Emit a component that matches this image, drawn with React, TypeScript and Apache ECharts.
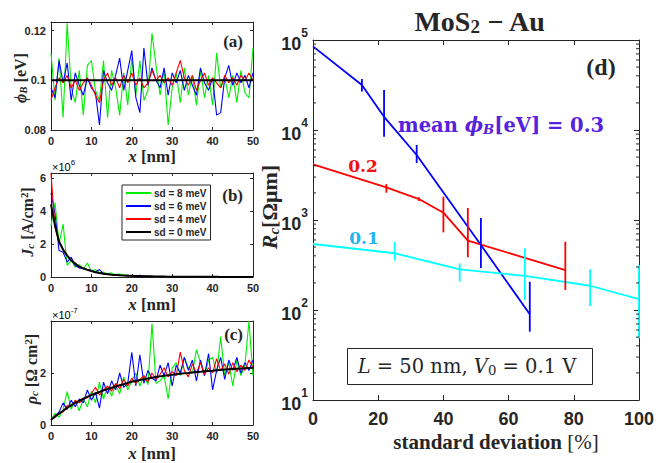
import React, { useEffect, useRef } from 'react';
import * as echarts from 'echarts';

// ---------- data: panels (a)-(c), position x [nm] ----------
const xNm = [0,1,2,3,4,5,6,7,8,9,10,11,12,13,14,15,16,17,18,19,20,21,22,23,24,25,26,27,28,29,30,31,32,33,34,35,36,37,38,39,40,41,42,43,44,45,46,47,48,49,50];

// (a) barrier height phi_B [eV]
const phiGreen = [0.111,0.092,0.109,0.085,0.123,0.097,0.091,0.104,0.086,0.106,0.108,0.096,0.092,0.108,0.085,0.104,0.097,0.086,0.103,0.090,0.109,0.094,0.108,0.092,0.096,0.119,0.106,0.094,0.104,0.082,0.097,0.103,0.091,0.105,0.094,0.102,0.090,0.104,0.093,0.102,0.090,0.111,0.097,0.101,0.093,0.102,0.091,0.104,0.095,0.093,0.113];
const phiBlue = [0.097,0.093,0.108,0.099,0.107,0.092,0.103,0.098,0.094,0.101,0.097,0.095,0.082,0.104,0.099,0.096,0.102,0.109,0.096,0.104,0.112,0.093,0.087,0.113,0.098,0.105,0.100,0.097,0.105,0.094,0.103,0.099,0.104,0.096,0.102,0.098,0.094,0.105,0.099,0.096,0.101,0.086,0.087,0.101,0.106,0.098,0.103,0.099,0.102,0.097,0.103];
const phiRed = [0.092,0.097,0.101,0.099,0.102,0.097,0.100,0.096,0.099,0.101,0.098,0.094,0.091,0.100,0.103,0.098,0.101,0.097,0.102,0.099,0.103,0.098,0.101,0.097,0.099,0.104,0.100,0.102,0.099,0.101,0.098,0.103,0.108,0.101,0.098,0.102,0.096,0.100,0.103,0.098,0.101,0.099,0.097,0.102,0.099,0.101,0.098,0.102,0.100,0.103,0.100];
const phiMeanX = [0, 50];
const phiMean = [0.1, 0.1];

// (b) current density J_c [1e6 A/cm^2]
const jcGreen = [3.1,4.5,2.0,3.2,0.7,1.0,0.6,0.75,0.5,0.85,0.35,0.45,0.25,0.3,0.2,0.25,0.12,0.2,0.1,0.12,0.05,0.09,0.05,0.06,0.03,0.05,0.025,0.035,0.02,0.03,0.02,0.015,0.02,0.012,0.015,0.01,0.014,0.009,0.011,0.008,0.01,0.007,0.009,0.006,0.008,0.006,0.007,0.005,0.006,0.005,0.005];
const jcBlue = [5.1,3.8,1.6,1.5,0.9,1.2,0.7,0.55,0.5,0.45,0.4,0.3,0.45,0.2,0.18,0.15,0.12,0.1,0.09,0.08,0.07,0.06,0.1,0.04,0.04,0.035,0.03,0.025,0.024,0.02,0.019,0.016,0.015,0.013,0.013,0.011,0.011,0.01,0.009,0.009,0.008,0.008,0.007,0.007,0.006,0.006,0.006,0.005,0.005,0.005,0.005];
const jcRed = [6.25,3.0,2.1,1.7,1.3,1.0,0.85,0.6,0.55,0.45,0.35,0.3,0.26,0.2,0.17,0.15,0.12,0.1,0.09,0.08,0.07,0.06,0.05,0.045,0.04,0.035,0.03,0.027,0.024,0.021,0.019,0.017,0.015,0.014,0.013,0.012,0.011,0.01,0.009,0.009,0.008,0.008,0.007,0.007,0.006,0.006,0.006,0.005,0.005,0.005,0.005];
const jcBlack = [4.4,3.1,2.15,1.65,1.3,1.0,0.8,0.63,0.52,0.43,0.36,0.29,0.24,0.2,0.17,0.14,0.12,0.1,0.09,0.08,0.07,0.06,0.05,0.045,0.04,0.035,0.03,0.027,0.024,0.021,0.019,0.017,0.015,0.014,0.013,0.012,0.011,0.01,0.009,0.009,0.008,0.008,0.007,0.007,0.006,0.006,0.006,0.005,0.005,0.005,0.005];

// (c) contact resistivity rho_c [1e-7 Ohm cm^2]
const rhoGreen = [0.2,0.45,0.3,0.6,1.28,0.6,0.95,0.55,1.0,0.7,1.3,0.85,1.65,1.0,1.5,1.1,1.55,1.2,1.85,1.35,1.7,2.0,1.5,1.9,1.55,3.9,1.6,1.7,1.9,1.0,2.2,2.4,1.9,2.6,2.2,2.0,2.9,2.4,1.9,2.5,2.6,2.0,3.4,1.9,2.4,1.5,2.5,1.9,2.3,4.0,1.9];
const rhoBlue = [0.2,0.35,0.5,0.85,0.6,0.95,0.7,1.0,0.85,1.35,0.95,1.25,0.65,1.65,1.2,1.7,1.35,2.0,1.45,1.6,2.8,1.5,2.7,1.6,2.1,1.8,1.7,2.3,1.9,2.4,1.5,2.3,2.0,2.6,2.1,2.5,1.7,2.5,1.9,2.75,1.35,2.1,2.6,1.75,2.5,2.1,2.6,2.0,2.4,2.1,2.5];
const rhoRed = [0.2,0.35,0.45,0.5,0.75,0.7,0.95,0.85,1.0,1.05,1.2,1.45,1.15,1.35,1.5,1.3,1.6,1.4,1.75,1.5,1.8,1.6,1.75,1.9,1.65,2.0,1.75,1.95,2.2,1.85,2.05,1.9,2.8,2.1,1.85,2.35,2.0,2.4,1.95,2.2,2.0,2.55,2.1,2.35,1.95,2.4,2.05,2.3,2.1,2.5,2.2];
const rhoBlack = [0.2,0.32,0.44,0.55,0.66,0.76,0.85,0.93,1.01,1.08,1.15,1.21,1.27,1.33,1.38,1.43,1.48,1.53,1.57,1.62,1.66,1.69,1.73,1.76,1.79,1.82,1.85,1.87,1.89,1.91,1.93,1.95,1.97,1.99,2.0,2.02,2.04,2.05,2.07,2.08,2.09,2.11,2.12,2.13,2.14,2.15,2.16,2.17,2.18,2.19,2.2];

const sdNames = ['sd = 8 meV', 'sd = 6 meV', 'sd = 4 meV', 'sd = 0 meV'];

// ---------- data: panel (d), R_c [Ohm um] vs standard deviation [%] ----------
const sd03 = [0, 15, 21.8, 31.8, 51.5, 66.5];
const rc03 = [85000, 31600, 14000, 5270, 527, 89.6];
const errSd03 = [15, 21.8, 31.8, 51.5, 66.5];
const errLo03 = [26700, 8430, 4300, 293, 57.4];
const errHi03 = [36900, 27800, 6810, 1052, 206];

const sd02 = [0, 22.5, 32.5, 40, 47.5, 77.4];
const rc02 = [4160, 2300, 1710, 1205, 589, 278];
const errSd02 = [22.5, 32.5, 40, 47.5, 77.4];
const errLo02 = [2010, 1625, 729, 385, 167];
const errHi02 = [2510, 1790, 1815, 1360, 574];

const sd01 = [0, 25.1, 45, 65, 85, 100];
const rc01 = [541, 427, 283, 239, 186, 132];
const errSd01 = [25.1, 45, 65, 85, 100];
const errLo01 = [353, 206, 129, 111, 48.5];
const errHi01 = [574, 330, 484, 283, 316];

const minorMultipliers = [2, 3, 4, 5, 6, 7, 8, 9];
const decades = [10, 100, 1000, 10000];

// ---------- styling ----------
const AX = '#262626';
const SANS = '"Liberation Sans", Arial, sans-serif';
const SERIF = '"Liberation Serif", "DejaVu Serif", serif';
const WIDE = '"DejaVu Serif", "Liberation Serif", serif';
const GREEN = '#00ee00';
const BLUE = '#0000ff';
const RED = '#ff0000';
const CYAN = '#00ffff';

const pairs = (xs: number[], ys: number[]) => xs.map((x, i) => [x, ys[i]]);

function xAx(gi: number, pos: 'bottom' | 'top', min: number, max: number, interval: number, fs: number, tick: number, margin: number) {
  return {
    type: 'value', gridIndex: gi, position: pos, min, max, interval,
    axisLine: { show: true, onZero: false, lineStyle: { color: AX, width: 1 } },
    axisTick: { show: true, inside: true, length: tick, lineStyle: { color: AX, width: 1 } },
    axisLabel: { show: pos === 'bottom', color: AX, fontSize: fs, fontWeight: 'bold', fontFamily: SANS, margin },
    splitLine: { show: false },
  };
}

function yAx(gi: number, pos: 'left' | 'right', min: number, max: number, interval: number, fs: number, fmt?: (v: number) => string) {
  return {
    type: 'value', gridIndex: gi, position: pos, min, max, interval,
    axisLine: { show: true, onZero: false, lineStyle: { color: AX, width: 1 } },
    axisTick: { show: true, inside: true, length: 3, lineStyle: { color: AX, width: 1 } },
    axisLabel: { show: pos === 'left', color: AX, fontSize: fs, fontWeight: 'bold', fontFamily: SANS, margin: 5, showMaxLabel: false, formatter: fmt },
    splitLine: { show: false },
  };
}

function logAx(pos: 'left' | 'right') {
  return {
    type: 'log', logBase: 10, gridIndex: 3, position: pos, min: 10, max: 100000,
    axisLine: { show: true, onZero: false, lineStyle: { color: AX, width: 1 } },
    axisTick: { show: true, inside: true, length: 5, lineStyle: { color: AX, width: 1 } },
    axisLabel: {
      show: pos === 'left', margin: 5,
      formatter: (v: number) => `{b|10}{s|${Math.round(Math.log10(v))}}`,
      rich: {
        b: { fontSize: 18, fontWeight: 'bold', fontFamily: SANS, color: AX, lineHeight: 26, verticalAlign: 'bottom' },
        s: { fontSize: 12, fontWeight: 'bold', fontFamily: SANS, color: AX, lineHeight: 12, verticalAlign: 'top' },
      },
    },
    splitLine: { show: false },
    minorTick: { show: false },
  };
}

const lineSeries = (name: string, xi: number, data: number[][], color: string, width: number) => ({
  name, type: 'line', xAxisIndex: xi, yAxisIndex: xi, data, showSymbol: false, symbol: 'none',
  lineStyle: { color, width }, itemStyle: { color }, silent: true, z: 3,
});

const errSeries = (xs: number[], lo: number[], hi: number[], color: string) => ({
  type: 'custom', xAxisIndex: 6, yAxisIndex: 6, silent: true, z: 4,
  data: xs.map((x, i) => [x, lo[i], hi[i]]),
  encode: { x: 0, y: [1, 2] },
  renderItem: (params: any, api: any) => {
    const a = api.coord([api.value(0), api.value(1)]);
    const b = api.coord([api.value(0), api.value(2)]);
    return { type: 'line', shape: { x1: a[0], y1: a[1], x2: b[0], y2: b[1] }, style: { stroke: color, lineWidth: 1.8 } };
  },
});

const rich = (size: number, color: string, fam: string) => ({
  n: { fontSize: size, fontWeight: 'bold', fontFamily: fam, color, lineHeight: size * 1.1, verticalAlign: 'middle' },
  r: { fontSize: size, fontWeight: 'normal', fontFamily: fam, color, lineHeight: size * 1.1, verticalAlign: 'middle' },
  i: { fontSize: size, fontWeight: 'bold', fontStyle: 'italic', fontFamily: fam, color, lineHeight: size * 1.1, verticalAlign: 'middle' },
  ri: { fontSize: size, fontWeight: 'normal', fontStyle: 'italic', fontFamily: fam, color, lineHeight: size * 1.1, verticalAlign: 'middle' },
  sub: { fontSize: size * 0.68, fontWeight: 'bold', fontStyle: 'italic', fontFamily: fam, color, lineHeight: size * 0.55, verticalAlign: 'bottom' },
  subn: { fontSize: size * 0.68, fontWeight: 'normal', fontFamily: fam, color, lineHeight: size * 0.55, verticalAlign: 'bottom' },
  subb: { fontSize: size * 0.68, fontWeight: 'bold', fontFamily: fam, color, lineHeight: size * 0.55, verticalAlign: 'bottom' },
  sup: { fontSize: size * 0.68, fontWeight: 'bold', fontFamily: fam, color, lineHeight: size * 0.55, verticalAlign: 'top' },
});

const gtext = (x: number, y: number, text: string, size: number, opts: any = {}) => ({
  type: 'text', x, y, z: 100, rotation: opts.rotation || 0,
  style: {
    text, rich: rich(size, opts.color || AX, opts.fam || SERIF), align: opts.align || 'center', verticalAlign: 'middle',
    fontSize: size, fontFamily: opts.fam || SERIF, fill: opts.color || AX,
  },
});

export default function App() {
  const ref = useRef<HTMLDivElement>(null);
  useEffect(() => {
    if (!ref.current) return;
    const chart = echarts.init(ref.current, undefined, { renderer: 'svg' });
    const minorData: number[][] = [];
    decades.forEach((d) => minorMultipliers.forEach((m) => minorData.push([0, d * m])));

    const option: any = {
      animation: false,
      backgroundColor: '#ffffff',
      grid: [
        { left: 51, top: 22, width: 202, height: 108 },
        { left: 51, top: 173, width: 202, height: 104 },
        { left: 51, top: 321, width: 202, height: 104 },
        { left: 313, top: 40, width: 326, height: 360 },
      ],
      xAxis: [
        xAx(0, 'bottom', 0, 50, 10, 11, 3, 5), xAx(0, 'top', 0, 50, 10, 11, 3, 5),
        xAx(1, 'bottom', 0, 50, 10, 11, 3, 5), xAx(1, 'top', 0, 50, 10, 11, 3, 5),
        xAx(2, 'bottom', 0, 50, 10, 11, 3, 5), xAx(2, 'top', 0, 50, 10, 11, 3, 5),
        xAx(3, 'bottom', 0, 100, 20, 18, 5, 10), xAx(3, 'top', 0, 100, 20, 18, 5, 10),
      ],
      yAxis: [
        yAx(0, 'left', 0.08, 0.1235, 0.02, 11, (v: number) => String(Math.round(v * 100) / 100)),
        yAx(0, 'right', 0.08, 0.1235, 0.02, 11),
        yAx(1, 'left', 0, 6.3, 2, 11), yAx(1, 'right', 0, 6.3, 2, 11),
        yAx(2, 'left', 0, 4, 2, 11), yAx(2, 'right', 0, 4, 2, 11),
        logAx('left'), logAx('right'),
      ],
      legend: {
        data: sdNames, orient: 'vertical', left: 122, top: 185, selectedMode: false,
        icon: 'rect', itemWidth: 25, itemHeight: 2, itemGap: 3,
        padding: [3, 4, 3, 4], borderColor: AX, borderWidth: 1, backgroundColor: '#ffffff',
        textStyle: { fontSize: 10, fontWeight: 'bold', fontFamily: SANS, color: AX, padding: [0, 0, 0, -2] },
      },
      series: [
        lineSeries(sdNames[0], 0, pairs(xNm, phiGreen), GREEN, 1.1),
        lineSeries(sdNames[1], 0, pairs(xNm, phiBlue), BLUE, 1.1),
        lineSeries(sdNames[2], 0, pairs(xNm, phiRed), RED, 1.1),
        lineSeries(sdNames[3], 0, pairs(phiMeanX, phiMean), '#000000', 2),
        lineSeries(sdNames[0], 2, pairs(xNm, jcGreen), GREEN, 1.1),
        lineSeries(sdNames[1], 2, pairs(xNm, jcBlue), BLUE, 1.1),
        lineSeries(sdNames[2], 2, pairs(xNm, jcRed), RED, 1.1),
        lineSeries(sdNames[3], 2, pairs(xNm, jcBlack), '#000000', 2),
        lineSeries(sdNames[0], 4, pairs(xNm, rhoGreen), GREEN, 1.1),
        lineSeries(sdNames[1], 4, pairs(xNm, rhoBlue), BLUE, 1.1),
        lineSeries(sdNames[2], 4, pairs(xNm, rhoRed), RED, 1.1),
        lineSeries(sdNames[3], 4, pairs(xNm, rhoBlack), '#000000', 2),
        lineSeries('mean 0.3 eV', 6, pairs(sd03, rc03), BLUE, 1.8),
        lineSeries('mean 0.2 eV', 6, pairs(sd02, rc02), RED, 1.8),
        lineSeries('mean 0.1 eV', 6, pairs(sd01, rc01), CYAN, 1.8),
        errSeries(errSd03, errLo03, errHi03, BLUE),
        errSeries(errSd02, errLo02, errHi02, RED),
        errSeries(errSd01, errLo01, errHi01, CYAN),
        {
          type: 'custom', xAxisIndex: 6, yAxisIndex: 6, silent: true, z: 5,
          data: minorData, encode: { x: 0, y: 1 },
          renderItem: (params: any, api: any) => {
            const p = api.coord([0, api.value(1)]);
            const cs = params.coordSys;
            return {
              type: 'group', children: [
                { type: 'line', shape: { x1: cs.x, y1: p[1], x2: cs.x + 3, y2: p[1] }, style: { stroke: AX, lineWidth: 1 } },
                { type: 'line', shape: { x1: cs.x + cs.width - 3, y1: p[1], x2: cs.x + cs.width, y2: p[1] }, style: { stroke: AX, lineWidth: 1 } },
              ],
            };
          },
        },
      ],
      graphic: [
        gtext(480, 21, '{n|MoS}{subb|2}{n| − Au}', 28),
        gtext(243, 41, '{n|(a)}', 17, { align: 'right' }),
        gtext(243, 195, '{n|(b)}', 17, { align: 'right' }),
        gtext(243, 334, '{n|(c)}', 17, { align: 'right' }),
        gtext(601, 67, '{n|(d)}', 24),
        gtext(20, 78, '{i|ϕ}{sub|B}{n| [eV]}', 16, { rotation: Math.PI / 2 }),
        gtext(27, 222, '{i|J}{sub|c}{n| [A/cm}{sup|2}{n|]}', 16, { rotation: Math.PI / 2 }),
        gtext(31, 369, '{i|ρ}{sub|c}{n| [Ω cm}{sup|2}{n|]}', 16, { rotation: Math.PI / 2 }),
        gtext(152, 156, '{i|x}{n| [nm]}', 17),
        gtext(152, 304, '{i|x}{n| [nm]}', 17),
        gtext(152, 453, '{i|x}{n| [nm]}', 17),
        gtext(269, 207, '{i|R}{sub|c}{n|[Ωμm]}', 22, { rotation: Math.PI / 2 }),
        gtext(496, 442, '{n|standard deviation }{r|[%]}', 21),
        {
          type: 'text', x: 52, y: 165, z: 100,
          style: {
            text: '{a|×10}{b|6}', align: 'left', verticalAlign: 'middle',
            rich: { a: { fontSize: 11, fontFamily: SANS, color: '#555', lineHeight: 14, verticalAlign: 'bottom' }, b: { fontSize: 8, fontFamily: SANS, color: '#555', lineHeight: 8, verticalAlign: 'top' } },
          },
        },
        {
          type: 'text', x: 52, y: 313, z: 100,
          style: {
            text: '{a|×10}{b|-7}', align: 'left', verticalAlign: 'middle',
            rich: { a: { fontSize: 11, fontFamily: SANS, color: '#555', lineHeight: 14, verticalAlign: 'bottom' }, b: { fontSize: 8, fontFamily: SANS, color: '#555', lineHeight: 8, verticalAlign: 'top' } },
          },
        },
        gtext(398, 125, '{n|mean }{i|ϕ}{sub|B}{n|[eV] = 0.3}', 19.5, { align: 'left', color: '#5522dd', fam: WIDE }),
        gtext(363, 166, '{n|0.2}', 17, { color: '#ee1111', fam: WIDE }),
        gtext(364, 238, '{n|0.1}', 17, { color: '#22b5f0', fam: WIDE }),
        {
          type: 'rect', z: 99, shape: { x: 347.5, y: 348.5, width: 245, height: 36 },
          style: { fill: '#ffffff', stroke: AX, lineWidth: 1 },
        },
        gtext(467, 366, '{ri|L}{r| = 50 nm, }{ri|V}{subn|0}{r| = 0.1 V}', 19.5, { fam: WIDE }),
      ],
    };
    chart.setOption(option);
    return () => chart.dispose();
  }, []);
  return <div ref={ref} style={{ position: 'fixed', left: 0, top: 0, width: 665, height: 463, background: '#fff' }} />;
}
